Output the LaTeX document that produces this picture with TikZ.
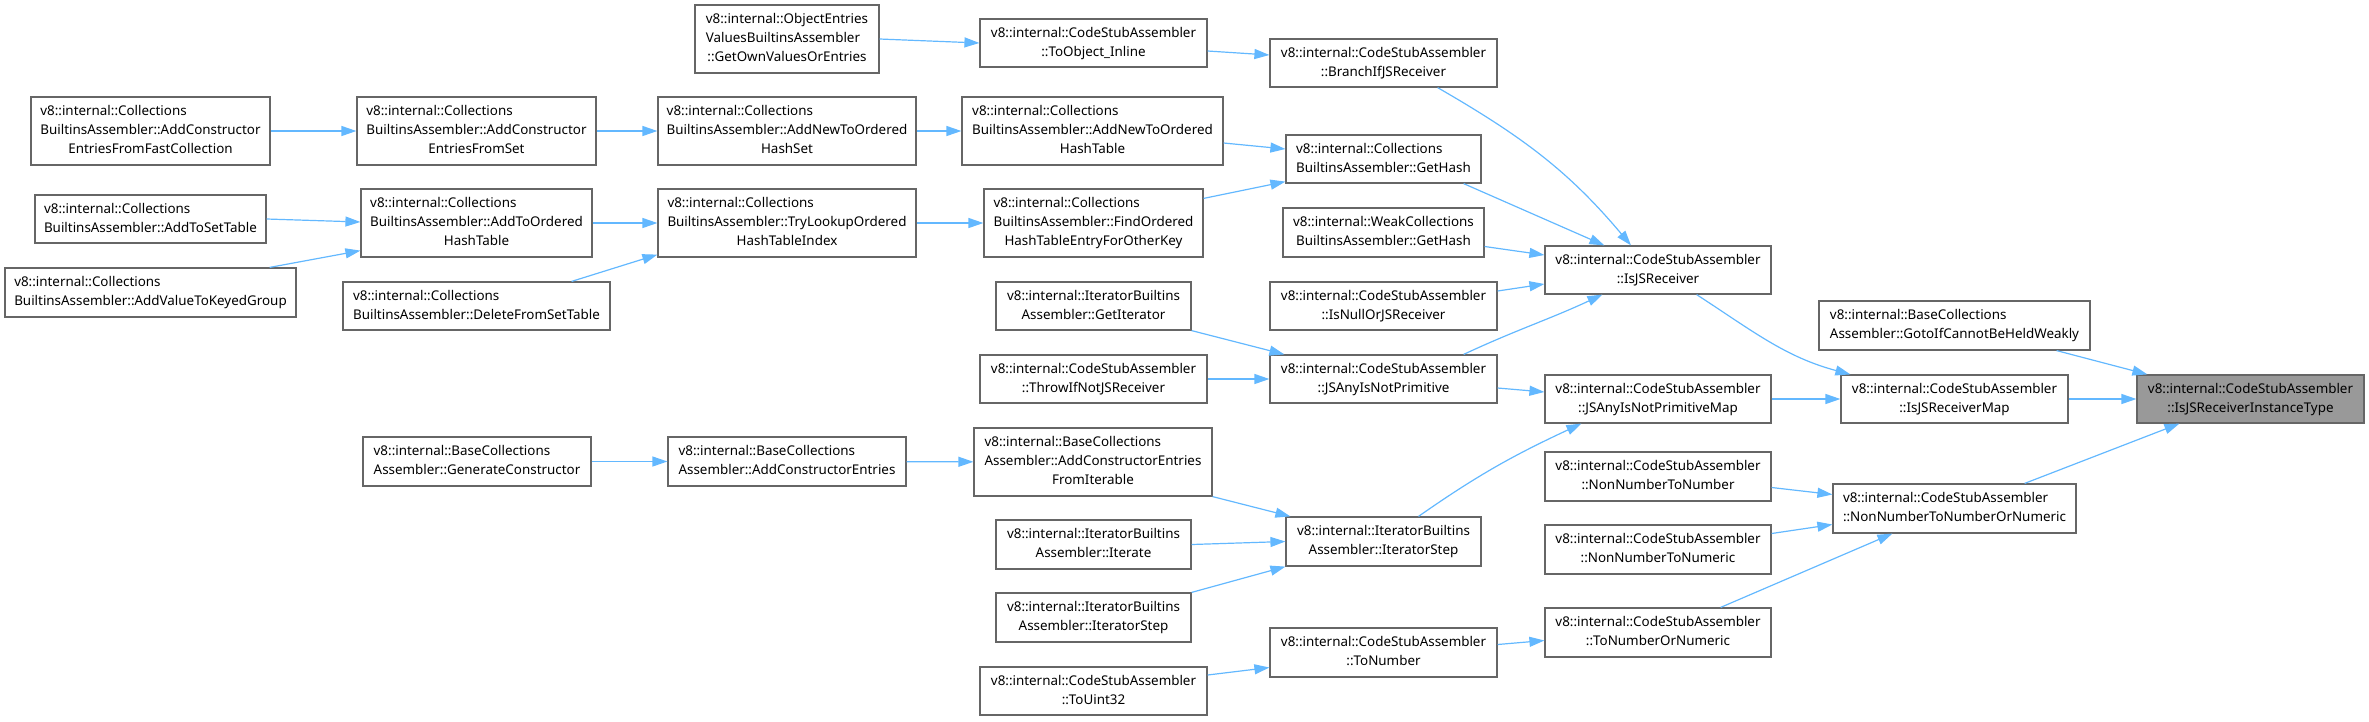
\documentclass[tikz,border=0pt]{standalone}
\usepackage{fontspec}
\setmainfont{Noto Sans}
\usetikzlibrary{arrows.meta}
\definecolor{edgeblue}{HTML}{63B8FF}
\definecolor{boxgray}{HTML}{666666}
\definecolor{hilite}{HTML}{999999}
\newcommand{\fnfont}{\fontsize{13.4}{19}\selectfont}
% all lines but the last one are left aligned
\newcommand{\twol}[2]{\begin{tabular}{@{}c@{}}\multicolumn{1}{@{}l@{}}{#1}\\#2\end{tabular}}
\newcommand{\threel}[3]{\begin{tabular}{@{}c@{}}\multicolumn{1}{@{}l@{}}{#1}\\\multicolumn{1}{@{}l@{}}{#2}\\#3\end{tabular}}
\tikzset{
  fn/.style={draw=boxgray,line width=1.2pt,fill=white,inner sep=0pt,minimum height=48pt,font=\fnfont},
  fn3/.style={fn,minimum height=68pt},
  call/.style={draw=edgeblue,line width=1.2pt,-{Triangle[length=15pt,width=10pt]}},
}
\begin{document}
\begin{tikzpicture}[x=1pt,y=-1pt]
  \useasboundingbox (0,0) rectangle (2369,721);
  % column 1
  \node[fn3,minimum width=239pt] (ffc) at (150.5,131) {\threel{v8::internal::Collections}{BuiltinsAssembler::AddConstructor}{EntriesFromFastCollection}};
  \node[fn,minimum width=231pt] (toset) at (150.5,219) {\twol{v8::internal::Collections}{BuiltinsAssembler::AddToSetTable}};
  \node[fn,minimum width=291pt,minimum height=49pt] (keyed) at (150.5,292.5) {\twol{v8::internal::Collections}{BuiltinsAssembler::AddValueToKeyedGroup}};
  % column 2
  \node[fn3,minimum width=239pt] (fset) at (476.5,131) {\threel{v8::internal::Collections}{BuiltinsAssembler::AddConstructor}{EntriesFromSet}};
  \node[fn3,minimum width=231pt] (tohash) at (476.5,223) {\threel{v8::internal::Collections}{BuiltinsAssembler::AddToOrdered}{HashTable}};
  \node[fn,minimum width=267pt] (delset) at (476.5,306) {\twol{v8::internal::Collections}{BuiltinsAssembler::DeleteFromSetTable}};
  \node[fn,minimum width=228pt,minimum height=49pt] (gencons) at (477,461.5) {\twol{v8::internal::BaseCollections}{Assembler::GenerateConstructor}};
  % column 3
  \node[fn3,minimum width=184pt] (ownval) at (787,39) {\threel{v8::internal::ObjectEntries}{ValuesBuiltinsAssembler}{::GetOwnValuesOrEntries}};
  \node[fn3,minimum width=258pt] (newset) at (787,131) {\threel{v8::internal::Collections}{BuiltinsAssembler::AddNewToOrdered}{HashSet}};
  \node[fn3,minimum width=258pt] (trylook) at (787,223) {\threel{v8::internal::Collections}{BuiltinsAssembler::TryLookupOrdered}{HashTableIndex}};
  \node[fn,minimum width=238pt,minimum height=49pt] (consent) at (787,461.5) {\twol{v8::internal::BaseCollections}{Assembler::AddConstructorEntries}};
  % column 4
  \node[fn,minimum width=227pt] (toobj) at (1093.5,43) {\twol{v8::internal::CodeStubAssembler}{::ToObject\_Inline}};
  \node[fn3,minimum width=261pt] (newtab) at (1092.5,131) {\threel{v8::internal::Collections}{BuiltinsAssembler::AddNewToOrdered}{HashTable}};
  \node[fn3,minimum width=219pt] (findord) at (1093.5,223) {\threel{v8::internal::Collections}{BuiltinsAssembler::FindOrdered}{HashTableEntryForOtherKey}};
  \node[fn,minimum width=195pt] (getiter) at (1093.5,306) {\twol{v8::internal::IteratorBuiltins}{Assembler::GetIterator}};
  \node[fn,minimum width=227pt] (throwrec) at (1093.5,379) {\twol{v8::internal::CodeStubAssembler}{::ThrowIfNotJSReceiver}};
  \node[fn3,minimum width=238pt] (fromiter) at (1093,462) {\threel{v8::internal::BaseCollections}{Assembler::AddConstructorEntries}{FromIterable}};
  \node[fn,minimum width=195pt,minimum height=49pt] (iterate) at (1093.5,544.5) {\twol{v8::internal::IteratorBuiltins}{Assembler::Iterate}};
  \node[fn,minimum width=195pt,minimum height=49pt] (itstepl) at (1093.5,617.5) {\twol{v8::internal::IteratorBuiltins}{Assembler::IteratorStep}};
  \node[fn,minimum width=227pt] (touint) at (1093.5,691) {\twol{v8::internal::CodeStubAssembler}{::ToUint32}};
  % column 5
  \node[fn,minimum width=227pt] (branch) at (1383.5,63) {\twol{v8::internal::CodeStubAssembler}{::BranchIfJSReceiver}};
  \node[fn,minimum width=195pt] (gethash) at (1383.5,159) {\twol{v8::internal::Collections}{BuiltinsAssembler::GetHash}};
  \node[fn,minimum width=201pt,minimum height=49pt] (weakhash) at (1383.5,232.5) {\twol{v8::internal::WeakCollections}{BuiltinsAssembler::GetHash}};
  \node[fn,minimum width=227pt] (nullrec) at (1383.5,306) {\twol{v8::internal::CodeStubAssembler}{::IsNullOrJSReceiver}};
  \node[fn,minimum width=227pt] (anyprim) at (1383.5,379) {\twol{v8::internal::CodeStubAssembler}{::JSAnyIsNotPrimitive}};
  \node[fn,minimum width=195pt,minimum height=49pt] (itstep) at (1383.5,541.5) {\twol{v8::internal::IteratorBuiltins}{Assembler::IteratorStep}};
  \node[fn,minimum width=227pt,minimum height=49pt] (tonum) at (1383.5,652.5) {\twol{v8::internal::CodeStubAssembler}{::ToNumber}};
  % column 6
  \node[fn,minimum width=226pt] (isrec) at (1658,270) {\twol{v8::internal::CodeStubAssembler}{::IsJSReceiver}};
  \node[fn,minimum width=226pt] (anymap) at (1658,399) {\twol{v8::internal::CodeStubAssembler}{::JSAnyIsNotPrimitiveMap}};
  \node[fn,minimum width=226pt,minimum height=49pt] (nn2num) at (1658,476.5) {\twol{v8::internal::CodeStubAssembler}{::NonNumberToNumber}};
  \node[fn,minimum width=226pt,minimum height=49pt] (nn2nc) at (1658,549.5) {\twol{v8::internal::CodeStubAssembler}{::NonNumberToNumeric}};
  \node[fn,minimum width=226pt,minimum height=49pt] (tonumnc) at (1658,632.5) {\twol{v8::internal::CodeStubAssembler}{::ToNumberOrNumeric}};
  % column 7
  \node[fn,minimum width=271pt,minimum height=49pt] (goto) at (1954.5,325.5) {\twol{v8::internal::BaseCollections}{Assembler::GotoIfCannotBeHeldWeakly}};
  \node[fn,minimum width=227pt] (recmap) at (1954.5,399) {\twol{v8::internal::CodeStubAssembler}{::IsJSReceiverMap}};
  \node[fn,minimum width=243pt,minimum height=49pt] (nn2nnc) at (1954.5,508.5) {\twol{v8::internal::CodeStubAssembler}{::NonNumberToNumberOrNumeric}};
  % the function itself
  \node[fn,fill=hilite,minimum width=227pt] (target) at (2250.5,399) {\twol{v8::internal::CodeStubAssembler}{::IsJSReceiverInstanceType}};

  % calls
  \draw[call] (ffc) -- (fset);
  \draw[call] (fset) -- (newset);
  \draw[call] (newset) -- (newtab);
  \draw[call] ([yshift=-12pt]newtab.east) -- ([yshift=10pt]gethash.west);
  \draw[call] (toset.east) -- ([yshift=1pt]tohash.west);
  \draw[call] ([xshift=-27pt]keyed.north east) -- ([yshift=7pt]tohash.south west);
  \draw[call] (tohash) -- (trylook);
  \draw[call] ([xshift=-39pt]delset.north east) -- ([yshift=3pt]trylook.south west);
  \draw[call] (trylook) -- (findord);
  \draw[call] ([yshift=-10pt]findord.north east) -- ([yshift=2pt]gethash.south west);
  \draw[call] (ownval.east) -- (toobj.west);
  \draw[call] ([yshift=-8pt]toobj.east) -- ([yshift=8pt]branch.west);
  \draw[call] ([xshift=-60pt]branch.south east) to[out=-30,in=130] ([xshift=-27pt]isrec.north);
  \draw[call] ([xshift=-18pt]gethash.south east) -- ([xshift=60pt]isrec.north west);
  \draw[call] ([yshift=-14pt]weakhash.east) -- ([yshift=15pt]isrec.west);
  \draw[call] ([yshift=15pt]nullrec.east) -- ([yshift=-14pt]isrec.west);
  \draw[call] ([xshift=-34pt]anyprim.north east) to[out=25,in=205] ([xshift=58pt]isrec.south west);
  \draw[call] (getiter.south east) -- ([xshift=15pt]anyprim.north west);
  \draw[call] (throwrec) -- (anyprim);
  \draw[call] ([yshift=-9pt]anyprim.east) -- ([yshift=7pt]anymap.west);
  \draw[call] (gencons) -- (consent);
  \draw[call] (consent) -- (fromiter);
  \draw[call] (fromiter.south east) -- ([xshift=5pt]itstep.north west);
  \draw[call] (iterate.east) -- (itstep.west);
  \draw[call] (itstepl.north east) -- (itstep.south west);
  \draw[call] ([xshift=35pt]itstep.north) to[out=35,in=205] ([xshift=37pt]anymap.south west);
  \draw[call] ([yshift=16pt]touint.east) -- ([yshift=-15pt]tonum.west);
  \draw[call] ([yshift=8pt]tonum.east) -- ([yshift=-8pt]tonumnc.west);
  \draw[call] ([xshift=-75pt]isrec.south east) to[out=-33,in=165] ([xshift=10pt]recmap.north west);
  \draw[call] (anymap) -- (recmap);
  \draw[call] (recmap) -- (target);
  \draw[call] ([xshift=-34pt]goto.south east) -- ([xshift=11pt]target.north west);
  \draw[call] ([xshift=-52pt]nn2nnc.north east) -- ([xshift=43pt]target.south west);
  \draw[call] ([yshift=-11pt]nn2num.east) -- ([yshift=14pt]nn2nnc.west);
  \draw[call] ([yshift=16pt]nn2nc.east) -- ([yshift=-16pt]nn2nnc.west);
  \draw[call] ([xshift=-51pt]tonumnc.north east) -- ([xshift=60pt]nn2nnc.south west);
\end{tikzpicture}
\end{document}
